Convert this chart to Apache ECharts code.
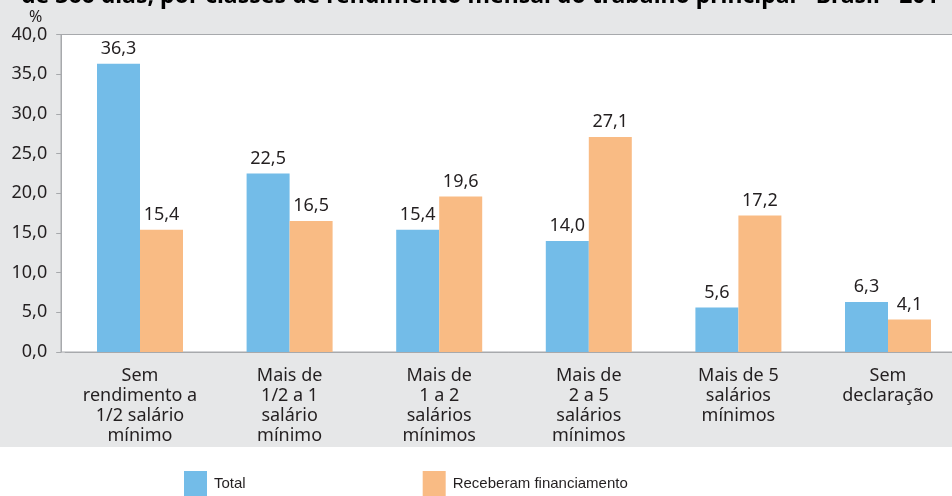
<!DOCTYPE html>
<html>
<head>
<meta charset="utf-8">
<script src="https://cdn.jsdelivr.net/npm/echarts@6/dist/echarts.min.js"></script>
<style>html,body{margin:0;padding:0;background:#fff}#c{width:952px;height:496px}</style>
</head>
<body>
<div id="c"></div>
<script>
const titleText = "de 366 dias, por classes de rendimento mensal do trabalho principal - Brasil - 201";
const categories = [
  "Sem\nrendimento a\n1/2 salário\nmínimo",
  "Mais de\n1/2 a 1\nsalário\nmínimo",
  "Mais de\n1 a 2\nsalários\nmínimos",
  "Mais de\n2 a 5\nsalários\nmínimos",
  "Mais de 5\nsalários\nmínimos",
  "Sem\ndeclaração"
];
const seriesNames = ["Total", "Receberam financiamento"];
const totalValues = [36.3, 22.5, 15.4, 14.0, 5.6, 6.3];
const financiamentoValues = [15.4, 16.5, 19.6, 27.1, 17.2, 4.1];
const yTicks = { min: 0, max: 40, interval: 5 };

const FONT = "'Noto Sans', 'Liberation Sans', Arial, sans-serif";
const LEG = "'Liberation Sans', Arial, sans-serif";
const TXT = '#231f20';
const AX = '#a7a9ac';
const fmt = v => Number(v).toFixed(1).replace('.', ',');

const chart = echarts.init(document.getElementById('c'), null, { renderer: 'canvas' });
chart.setOption({
  backgroundColor: '#ffffff',
  animation: false,
  title: {
    text: titleText,
    left: 21, top: -15, padding: 0,
    textStyle: { fontFamily: FONT, fontWeight: 'bold', fontSize: 23, color: '#000' }
  },
  graphic: [
    { type: 'rect', z: -20, silent: true, shape: { x: 0, y: 0, width: 952, height: 447 }, style: { fill: '#e6e7e8' } },
    { type: 'rect', z: -10, silent: true, shape: { x: 61, y: 34.5, width: 960, height: 317.5 }, style: { fill: '#ffffff', stroke: AX, lineWidth: 1 } }
  ],
  legend: {
    data: seriesNames,
    left: 184, top: 471, padding: 0,
    itemWidth: 23, itemHeight: 25, itemGap: 177,
    icon: 'rect',
    textStyle: { fontFamily: LEG, fontSize: 15, color: TXT, padding: [0, 0, 0, 2] }
  },
  grid: { left: 65.2, top: 34.5, width: 897.6, height: 317.5, containLabel: false, outerBoundsMode: 'none' },
  xAxis: {
    type: 'category',
    data: categories,
    axisLine: { show: true, lineStyle: { color: AX, width: 1 } },
    axisTick: { show: false },
    axisLabel: { interval: 0, margin: 14, fontFamily: FONT, fontSize: 18, lineHeight: 20, color: TXT }
  },
  yAxis: {
    type: 'value',
    min: yTicks.min, max: yTicks.max, interval: yTicks.interval,
    offset: 4,
    name: '%',
    nameLocation: 'end',
    nameGap: 8,
    nameTextStyle: { fontFamily: FONT, fontSize: 16, color: TXT, align: 'right', padding: [0, 19, 0, 0] },
    axisLine: { show: true, lineStyle: { color: AX, width: 1 } },
    axisTick: { show: true, inside: false, length: 5, lineStyle: { color: AX } },
    splitLine: { show: false },
    axisLabel: { margin: 14, fontFamily: FONT, fontSize: 18, color: TXT, formatter: fmt }
  },
  series: [
    {
      name: seriesNames[0], type: 'bar', data: totalValues,
      barWidth: 43, barGap: '0%',
      itemStyle: { color: '#73bce8' },
      label: { show: true, position: 'top', distance: 6, fontFamily: FONT, fontSize: 18, color: TXT, formatter: p => fmt(p.value) }
    },
    {
      name: seriesNames[1], type: 'bar', data: financiamentoValues,
      barWidth: 43, barGap: '0%',
      itemStyle: { color: '#f9bb84' },
      label: { show: true, position: 'top', distance: 6, fontFamily: FONT, fontSize: 18, color: TXT, formatter: p => fmt(p.value) }
    }
  ]
});
</script>
</body>
</html>
